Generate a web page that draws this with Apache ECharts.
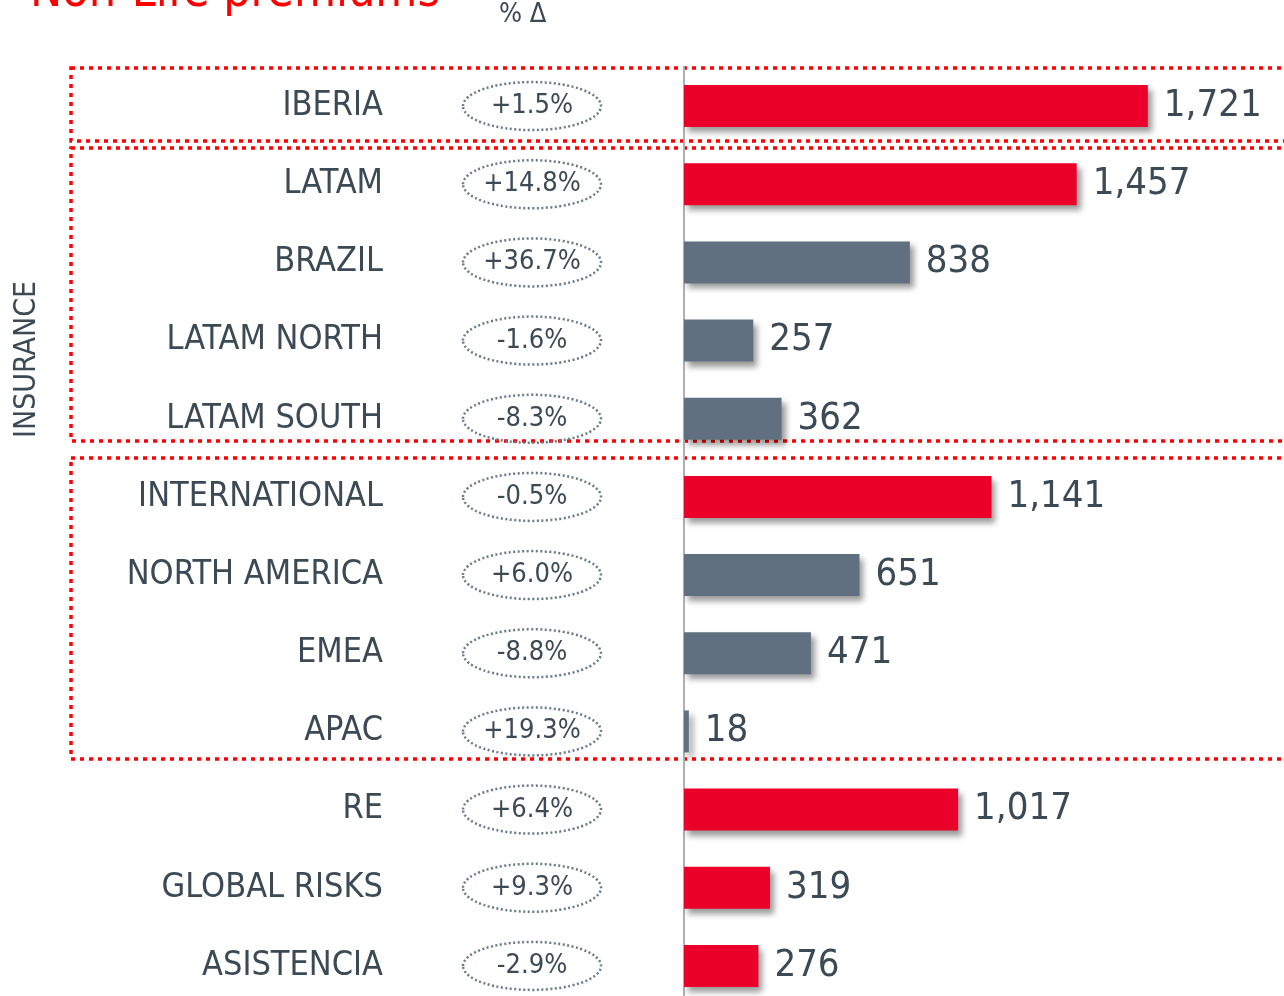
<!DOCTYPE html>
<html>
<head>
<meta charset="utf-8">
<script src="https://cdn.jsdelivr.net/npm/echarts@6/dist/echarts.min.js"></script>
<style>
  html, body { margin: 0; padding: 0; background: #fff; overflow: hidden; }
  #chart { width: 1284px; height: 1010px; }
</style>
</head>
<body>
<div id="chart"></div>
<script>
var regions = ['IBERIA', 'LATAM', 'BRAZIL', 'LATAM NORTH', 'LATAM SOUTH', 'INTERNATIONAL',
  'NORTH AMERICA', 'EMEA', 'APAC', 'RE', 'GLOBAL RISKS', 'ASISTENCIA'];
var premiums = [1721, 1457, 838, 257, 362, 1141, 651, 471, 18, 1017, 319, 276];
var changes = ['+1.5%', '+14.8%', '+36.7%', '-1.6%', '-8.3%', '-0.5%', '+6.0%', '-8.8%', '+19.3%', '+6.4%', '+9.3%', '-2.9%'];
// total rows get red, sub-regions grey
var isTotal = [true, true, false, false, false, true, false, false, false, true, true, true];

var RED = '#EA0029';
var GREY = '#607080';
var TEXT = '#3C4A55';
var FONT = '"DejaVu Sans Condensed", "DejaVu Sans", sans-serif';

var chart = echarts.init(document.getElementById('chart'));

// dotted red frames around the groups
function frame(top, bottom) {
  return {
    type: 'rect',
    shape: { x: 71, y: top, width: 1260, height: bottom - top },
    style: { fill: 'none', stroke: '#FF0000', lineWidth: 3.5, lineDash: [4, 5] },
    silent: true
  };
}

var option = {
  animation: false,
  backgroundColor: '#fff',
  grid: { left: 684, top: 67, width: 539, height: 938, containLabel: false },
  xAxis: {
    type: 'value', min: 0, max: 2000,
    show: false
  },
  yAxis: {
    type: 'category',
    inverse: true,
    data: regions,
    axisLine: { show: true, lineStyle: { color: '#B0B0B0', width: 2 } },
    axisTick: { show: false },
    axisLabel: {
      margin: 301,
      fontSize: 34,
      fontFamily: FONT,
      color: TEXT
    }
  },
  graphic: [
    frame(68, 141),
    frame(148, 441),
    frame(458, 759),
    {
      type: 'text', left: 30, top: -30,
      style: { text: 'Non-Life premiums', fontSize: 48, fontFamily: FONT, fill: '#FF0000' }
    },
    {
      type: 'text', left: 499, top: 1,
      style: { text: '% Δ', fontSize: 27, fontFamily: FONT, fill: TEXT }
    },
    {
      type: 'text', x: 12, y: 438, rotation: Math.PI / 2,
      style: { text: 'INSURANCE', fontSize: 30, fontFamily: FONT, fill: TEXT }
    }
  ],
  series: [
    {
      type: 'bar',
      barWidth: 42,
      data: premiums.map(function (v, i) {
        return { value: v, itemStyle: { color: isTotal[i] ? RED : GREY } };
      }),
      itemStyle: {
        shadowColor: 'rgba(0,0,0,0.4)',
        shadowBlur: 6,
        shadowOffsetX: 4,
        shadowOffsetY: 5
      },
      label: {
        show: true,
        position: 'right',
        distance: 16,
        fontSize: 38,
        fontFamily: FONT,
        color: TEXT,
        formatter: function (p) { return p.value.toLocaleString('en-US'); }
      }
    },
    {
      // % change bubbles
      type: 'custom',
      clip: false,
      silent: true,
      data: changes.map(function (c, i) { return [0, i]; }),
      encode: { x: 0, y: 1 },
      renderItem: function (params, api) {
        var y = api.coord([0, api.value(1)])[1];
        var cx = 532;
        return {
          type: 'group',
          children: [
            {
              type: 'ellipse',
              shape: { cx: cx, cy: y, rx: 69, ry: 24 },
              style: { fill: 'none', stroke: '#6A7A88', lineWidth: 2.5, lineDash: [2, 2.5] }
            },
            {
              type: 'text',
              x: cx, y: y,
              style: {
                text: changes[params.dataIndex],
                fontSize: 27, fontFamily: FONT, fill: TEXT,
                align: 'center', verticalAlign: 'middle'
              }
            }
          ]
        };
      }
    }
  ]
};

chart.setOption(option);
</script>
</body>
</html>
